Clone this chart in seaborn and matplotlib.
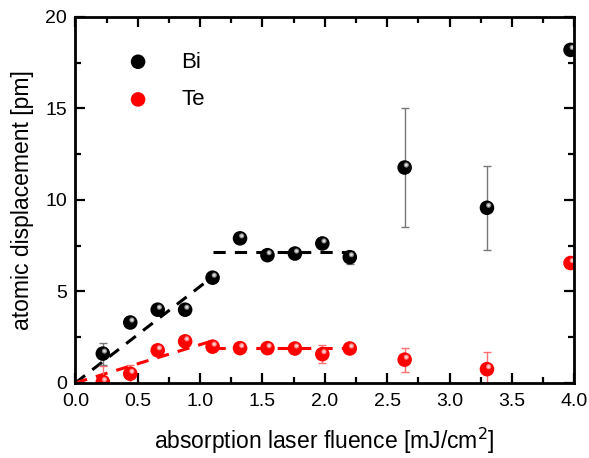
import numpy as np
import matplotlib
matplotlib.use("Agg")
import matplotlib.pyplot as plt
import matplotlib.transforms as mtransforms
from matplotlib.ticker import MultipleLocator
import seaborn as sns
import pandas as pd

# fluence values (mJ/cm^2)
fluence = [0.22, 0.44, 0.66, 0.88, 1.10, 1.32, 1.54, 1.76, 1.98, 2.20, 2.64, 3.30, 3.97]
# atomic displacement (pm)
bi_disp = [1.6, 3.3, 4.0, 4.0, 5.75, 7.9, 6.98, 7.07, 7.62, 6.87, 11.77, 9.57, 18.2]
bi_err = [0.6, 0.1, 0.1, 0.1, 0.2, 0.1, 0.1, 0.1, 0.15, 0.36, 3.27, 2.3, 0.0]
te_disp = [0.05, 0.5, 1.78, 2.27, 1.98, 1.9, 1.9, 1.88, 1.57, 1.88, 1.27, 0.75, 6.55]
te_err = [0.9, 0.5, 0.2, 0.15, 0.15, 0.15, 0.25, 0.15, 0.48, 0.2, 0.65, 0.95, 0.0]

# dashed guides: linear rise, then a plateau
bi_rise_x = [0.0, 1.10]
bi_rise_y = [0.0, 5.8]
bi_flat_x = [1.10, 2.22]
bi_flat_y = [7.17, 7.17]
te_rise_x = [0.0, 1.10]
te_rise_y = [0.0, 2.3]
te_flat_x = [1.10, 2.22]
te_flat_y = [1.9, 1.9]

df = pd.DataFrame({"fluence": fluence, "Bi": bi_disp, "Te": te_disp})

sns.set_style("ticks")
plt.rcParams["font.family"] = ["Liberation Sans", "DejaVu Sans"]
plt.rcParams.update({"text.color": "black", "axes.labelcolor": "black",
                     "xtick.color": "black", "ytick.color": "black",
                     "axes.edgecolor": "black"})

fig = plt.figure(figsize=(5.89, 4.58), dpi=100)
ax = fig.add_axes([0.128, 0.164, 0.847, 0.799])

dash = (0, (4, 3))
for gx, gy, c in [(bi_rise_x, bi_rise_y, "black"), (bi_flat_x, bi_flat_y, "black"),
                  (te_rise_x, te_rise_y, "#ff0000"), (te_flat_x, te_flat_y, "#ff0000")]:
    sns.lineplot(x=gx, y=gy, ax=ax, color=c, lw=2.2, linestyle=dash, sort=False, zorder=2)

# error bars
ax.errorbar(fluence, bi_disp, yerr=bi_err, fmt="none", ecolor="#777777",
            elinewidth=1.0, capsize=3, capthick=1.0, zorder=3)
ax.errorbar(fluence, te_disp, yerr=te_err, fmt="none", ecolor="#ff7070",
            elinewidth=1.0, capsize=3, capthick=1.0, zorder=3)

# spheres
sns.scatterplot(data=df, x="fluence", y="Bi", ax=ax, color="black", s=110,
                edgecolor="none", label="Bi", zorder=4)
sns.scatterplot(data=df, x="fluence", y="Te", ax=ax, color="#ff0000", s=110,
                edgecolor="none", label="Te", zorder=4)

# highlights to look like shaded spheres
hl = mtransforms.offset_copy(ax.transData, fig=fig, x=1.2, y=1.8, units="points")
ax.scatter(fluence, bi_disp, s=14, color="#8a8a8a", edgecolor="none", transform=hl, zorder=5)
ax.scatter(fluence, bi_disp, s=4, color="#dddddd", edgecolor="none", transform=hl, zorder=6)
ax.scatter(fluence, te_disp, s=14, color="#ff8080", edgecolor="none", transform=hl, zorder=5)
ax.scatter(fluence, te_disp, s=4, color="#ffd0d0", edgecolor="none", transform=hl, zorder=6)

ax.set_xlim(0, 4.0)
ax.set_ylim(0, 20)
ax.xaxis.set_major_locator(MultipleLocator(0.5))
ax.xaxis.set_minor_locator(MultipleLocator(0.25))
ax.yaxis.set_major_locator(MultipleLocator(5))
ax.yaxis.set_minor_locator(MultipleLocator(2.5))
ax.set_xticklabels([f"{v:.1f}" for v in ax.get_xticks()])

for s in ax.spines.values():
    s.set_visible(True)
    s.set_linewidth(2.0)
    s.set_color("black")
    s.set_zorder(10)

ax.tick_params(which="both", direction="in", top=True, right=True, width=1.6,
               labelsize=14)
ax.tick_params(axis="x", pad=7)
ax.tick_params(axis="y", pad=6)
ax.tick_params(which="major", length=7)
ax.tick_params(which="minor", length=4.5)

ax.set_xlabel("absorption laser fluence [mJ/cm$^2$]", fontsize=16.5, labelpad=12)
ax.set_ylabel("atomic displacement [pm]", fontsize=16.5, labelpad=8)

ax.legend(loc="upper left", bbox_to_anchor=(0.041, 0.96), frameon=False,
          fontsize=16, handletextpad=0.95, labelspacing=0.75, markerscale=1.0)

fig.savefig("out.png", dpi=100)
